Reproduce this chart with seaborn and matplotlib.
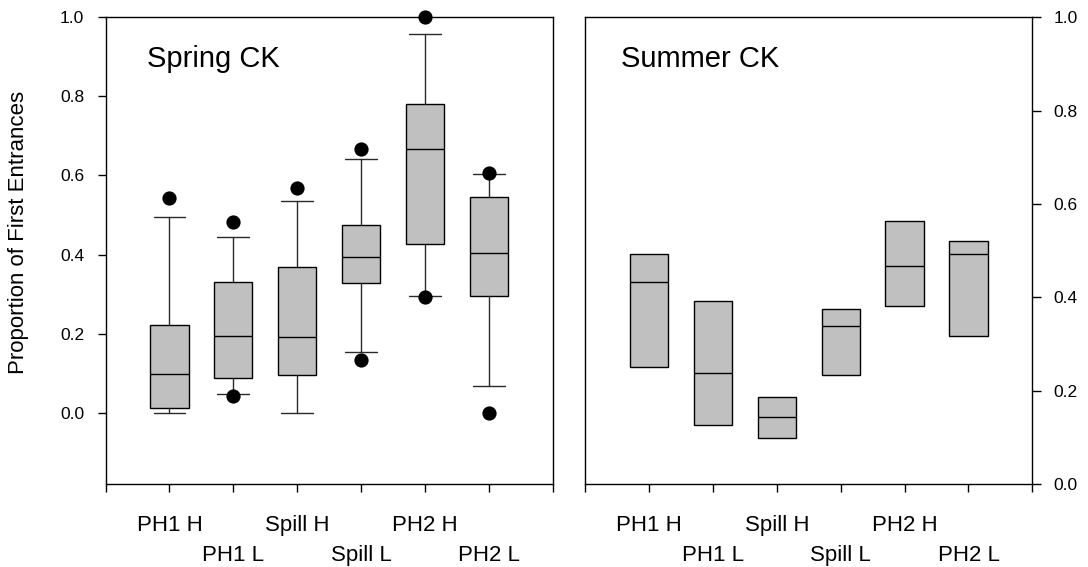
import matplotlib
matplotlib.use("Agg")
import matplotlib.pyplot as plt
import seaborn as sns

# Categories (x positions 1..6)
groups = ["PH1 H", "PH1 L", "Spill H", "Spill L", "PH2 H", "PH2 L"]

# Spring CK box statistics
spring_q1 = [0.013, 0.087, 0.095, 0.327, 0.426, 0.295]
spring_med = [0.098, 0.195, 0.191, 0.395, 0.668, 0.403]
spring_q3 = [0.222, 0.330, 0.368, 0.476, 0.781, 0.546]
spring_lo = [0.000, 0.047, 0.000, 0.154, 0.296, 0.068]
spring_hi = [0.494, 0.444, 0.536, 0.642, 0.958, 0.604]

# Spring CK outlying points
spring_out_group = ["PH1 H", "PH1 L", "PH1 L", "Spill H", "Spill L",
                    "Spill L", "PH2 H", "PH2 H", "PH2 L", "PH2 L"]
spring_out_value = [0.542, 0.483, 0.042, 0.569, 0.667,
                    0.133, 1.000, 0.292, 0.606, 0.000]

# Summer CK box statistics (no whiskers)
summer_q1 = [0.250, 0.126, 0.098, 0.233, 0.381, 0.317]
summer_med = [0.433, 0.237, 0.144, 0.339, 0.468, 0.492]
summer_q3 = [0.493, 0.393, 0.187, 0.375, 0.564, 0.521]

yticks = [0.0, 0.2, 0.4, 0.6, 0.8, 1.0]

sns.set_theme(style="ticks")
plt.rcParams["font.family"] = ["Liberation Sans", "DejaVu Sans"]
plt.rcParams.update({
    "axes.edgecolor": "black",
    "axes.linewidth": 1.0,
    "text.color": "black",
    "axes.labelcolor": "black",
    "xtick.color": "black",
    "ytick.color": "black",
})

BOX_FACE = "#c0c0c0"
positions = list(range(1, len(groups) + 1))

fig = plt.figure(figsize=(10.88, 5.67), dpi=100)
ax1 = fig.add_axes([0.0971, 0.1464, 0.4108, 0.8231])
ax2 = fig.add_axes([0.5380, 0.1464, 0.4108, 0.8231])


def box_stats(q1, med, q3, lo, hi):
    return [dict(q1=a, med=b, q3=c, whislo=d, whishi=e, fliers=[], label=g)
            for a, b, c, d, e, g in zip(q1, med, q3, lo, hi, groups)]


common = dict(positions=positions, widths=0.6, patch_artist=True,
              showfliers=False, manage_ticks=False,
              boxprops=dict(facecolor=BOX_FACE, edgecolor="black", linewidth=1.0),
              medianprops=dict(color="black", linewidth=1.0),
              whiskerprops=dict(color="#2a2a2a", linewidth=1.0),
              capprops=dict(color="#2a2a2a", linewidth=1.0))

# Spring panel: boxes, whiskers and outliers
ax1.bxp(box_stats(spring_q1, spring_med, spring_q3, spring_lo, spring_hi),
        capwidths=0.5, **common)
out_x = [groups.index(g) + 1 for g in spring_out_group]
sns.scatterplot(x=out_x, y=spring_out_value, ax=ax1, color="black", s=105,
                linewidth=0, zorder=5, clip_on=False, legend=False)

# Summer panel: boxes only
ax2.bxp(box_stats(summer_q1, summer_med, summer_q3, summer_q1, summer_q3),
        showcaps=False, **common)

for ax in (ax1, ax2):
    ax.set_xlim(0, 7)
    ax.set_xticks(range(8))
    ax.set_xticklabels([""] + groups + [""])
    ax.tick_params(axis="x", direction="out", length=5.5, width=1.0,
                   labelsize=16, top=False)
    for i, tick in enumerate(ax.xaxis.get_major_ticks()):
        tick.set_pad(16.5 if i % 2 == 1 else 38.5)
    ax.set_yticks(yticks)
    ax.set_yticklabels([f"{v:.1f}" for v in yticks])
    for s in ax.spines.values():
        s.set_visible(True)
        s.set_color("black")
        s.set_linewidth(1.0)
    ax.set_facecolor("white")

ax1.set_ylim(-0.18, 1.0)
ax1.tick_params(axis="y", direction="out", length=6, width=1.0,
                labelsize=12.5, pad=9.5, left=True, right=False)
ax1.set_ylabel("Proportion of First Entrances", fontsize=16)
ax1.yaxis.set_label_coords(-0.172, 0.54)

ax2.set_ylim(0.0, 1.0)
ax2.yaxis.tick_right()
ax2.tick_params(axis="y", direction="out", length=6.7, width=1.0,
                labelsize=12.5, pad=8.4, left=False, right=True,
                labelleft=False, labelright=True)

ax1.text(0.092, 0.894, "Spring CK", transform=ax1.transAxes,
         fontsize=21, ha="left", va="baseline")
ax2.text(0.079, 0.894, "Summer CK", transform=ax2.transAxes,
         fontsize=21, ha="left", va="baseline")

fig.savefig("out.png", dpi=100, facecolor="white")
